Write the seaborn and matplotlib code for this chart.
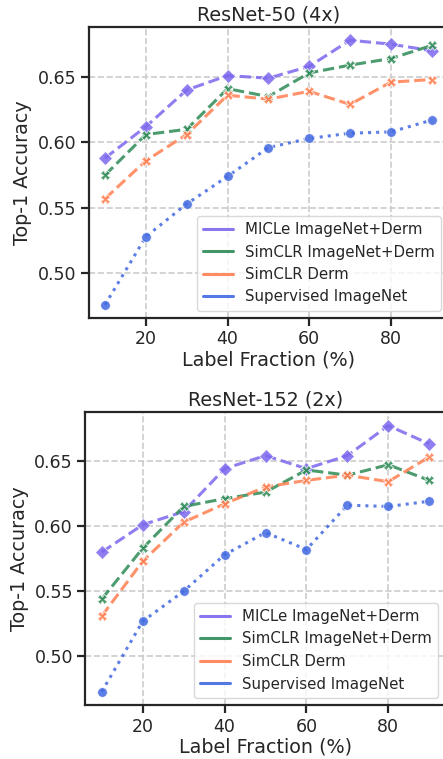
import matplotlib
matplotlib.use("Agg")
import matplotlib.pyplot as plt
import seaborn as sns
import pandas as pd
from matplotlib.lines import Line2D

label_fraction = [10, 20, 30, 40, 50, 60, 70, 80, 90]
methods = ["MICLe ImageNet+Derm", "SimCLR ImageNet+Derm", "SimCLR Derm", "Supervised ImageNet"]

r50_micle = [0.588, 0.612, 0.640, 0.651, 0.649, 0.658, 0.678, 0.675, 0.670]
r50_simclr_in = [0.575, 0.606, 0.610, 0.641, 0.635, 0.653, 0.659, 0.664, 0.674]
r50_simclr_derm = [0.557, 0.586, 0.606, 0.636, 0.633, 0.639, 0.629, 0.646, 0.648]
r50_supervised = [0.476, 0.528, 0.553, 0.574, 0.596, 0.603, 0.607, 0.608, 0.617]

r152_micle = [0.580, 0.601, 0.611, 0.644, 0.654, 0.644, 0.654, 0.677, 0.663]
r152_simclr_in = [0.544, 0.583, 0.615, 0.621, 0.626, 0.643, 0.639, 0.647, 0.635]
r152_simclr_derm = [0.531, 0.573, 0.603, 0.617, 0.630, 0.635, 0.639, 0.634, 0.653]
r152_supervised = [0.473, 0.527, 0.550, 0.578, 0.595, 0.582, 0.616, 0.615, 0.619]

titles = ["ResNet-50 (4x)", "ResNet-152 (2x)"]
panels = [
    [r50_micle, r50_simclr_in, r50_simclr_derm, r50_supervised],
    [r152_micle, r152_simclr_in, r152_simclr_derm, r152_supervised],
]

colors = ["#7B68EE", "#2E8B57", "#FF7F50", "#4169E1"]
markers = ["D", "X", "X", "o"]
linestyles = ["--", "--", "--", ":"]

sns.set_style("ticks", {"grid.linestyle": "--", "grid.color": "#cccccc"})
plt.rcParams["font.family"] = ["DejaVu Sans"]
text_color = "#262626"

fig = plt.figure(figsize=(4.43, 7.59), dpi=100)
W, H = 443.0, 759.0
positions = [
    (88.7 / W, 1 - 318 / H, 359.3 / W, 291 / H),
    (85.4 / W, 1 - 705 / H, 360.2 / W, 292.7 / H),
]

for pos, title, series in zip(positions, titles, panels):
    ax = fig.add_axes(pos)
    for name, vals, c, m, ls in zip(methods, series, colors, markers, linestyles):
        df = pd.DataFrame({"x": label_fraction, "y": vals})
        sns.lineplot(data=df, x="x", y="y", ax=ax, color=c, marker=m,
                     linestyle=ls, linewidth=2.2, markersize=7, alpha=0.85,
                     markeredgecolor="white", markeredgewidth=0.6)
    ax.set_xticks([20, 40, 60, 80])
    ax.set_yticks([0.50, 0.55, 0.60, 0.65])
    ax.set_xlim(6, 94)
    ax.grid(True, linestyle="--", color="#cccccc", linewidth=1.2)
    ax.set_axisbelow(True)
    ax.tick_params(axis="both", labelsize=12.5, colors=text_color, length=6, width=1.6,
                   direction="out", pad=3)
    for s in ax.spines.values():
        s.set_linewidth(1.6)
        s.set_color(text_color)
    ax.set_xlabel("Label Fraction (%)", fontsize=13.8, color=text_color, labelpad=1.5)
    ax.set_ylabel("Top-1 Accuracy", fontsize=13.8, color=text_color)
    ax.set_title(title, fontsize=13.8, color=text_color, pad=5)
    handles = [Line2D([0], [0], color=c, linewidth=2.2, alpha=0.9) for c in colors]
    leg = ax.legend(handles, methods, loc="lower right", fontsize=10.8,
                    frameon=True, borderaxespad=0.5, bbox_to_anchor=(1.0, 0.0),
                    handlelength=2.0, labelspacing=0.5)
    leg.get_frame().set_edgecolor("#d0d0d0")
    for t in leg.get_texts():
        t.set_color(text_color)

fig.savefig("out.png", dpi=100)
